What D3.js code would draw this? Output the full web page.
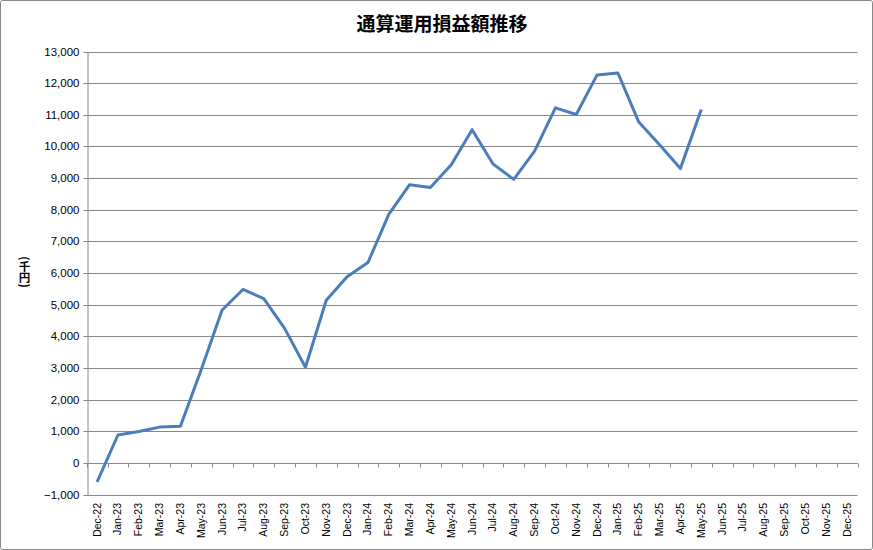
<!DOCTYPE html>
<html><head><meta charset="utf-8">
<script src="https://cdn.jsdelivr.net/npm/d3@7"></script>
<style>body{margin:0;background:#fff}svg{display:block}</style>
</head><body>
<script>
const months = ["Dec-22","Jan-23","Feb-23","Mar-23","Apr-23","May-23","Jun-23","Jul-23","Aug-23","Sep-23","Oct-23","Nov-23","Dec-23","Jan-24","Feb-24","Mar-24","Apr-24","May-24","Jun-24","Jul-24","Aug-24","Sep-24","Oct-24","Nov-24","Dec-24","Jan-25","Feb-25","Mar-25","Apr-25","May-25","Jun-25","Jul-25","Aug-25","Sep-25","Oct-25","Nov-25","Dec-25"];
const values = [-600,880,990,1130,1160,2950,4830,5480,5190,4250,3020,5140,5880,6330,7850,8790,8700,9420,10530,9450,8960,9850,11220,11010,12260,12320,10770,10050,9300,11170];
const yTicks = [-1000,0,1000,2000,3000,4000,5000,6000,7000,8000,9000,10000,11000,12000,13000];
const title = "通算運用損益額推移";
const yLabel = "(千円)";

const W=873,H=550;
const L=86.7,R=857.5,T=51.5,B=494.5;
const svg=d3.select("body").append("svg").attr("width",W).attr("height",H);
svg.append("rect").attr("x",0.5).attr("y",0.5).attr("width",W-1).attr("height",H-1).attr("fill","#fff").attr("stroke","#888").attr("rx",2);

const x=d3.scaleBand().domain(months).range([L,R]).paddingInner(0).paddingOuter(0);
const y=d3.scaleLinear().domain([-1000,13000]).range([B,T]);
const grey="#868686";
const font="'Liberation Sans', Arial, sans-serif";

// gridlines
svg.append("g").selectAll("line").data(yTicks).join("line")
  .attr("x1",L).attr("x2",R).attr("y1",d=>Math.round(y(d))+0.5).attr("y2",d=>Math.round(y(d))+0.5)
  .attr("stroke",grey).attr("stroke-width",1);

// y axis
const ya=svg.append("g").attr("transform",`translate(${Math.round(L)+0.5},0)`)
  .call(d3.axisLeft(y).tickValues(yTicks).tickSize(4).tickSizeOuter(0).tickPadding(4).tickFormat(d3.format(",")));
ya.select(".domain").attr("stroke",grey);
ya.selectAll(".tick line").attr("stroke",grey);
ya.selectAll(".tick").attr("transform",d=>`translate(0,${Math.round(y(d))+0.5})`);
ya.selectAll("text").attr("font-family",font).attr("font-size","11.5px").attr("fill","#000");

// x axis at zero with ticks between categories
const y0=Math.round(y(0))+0.5;
svg.append("line").attr("x1",L).attr("x2",R).attr("y1",y0).attr("y2",y0).attr("stroke",grey);
const bounds=months.map(m=>x(m)).concat([x(months[months.length-1])+x.bandwidth()]);
svg.append("g").selectAll("line").data(bounds).join("line")
  .attr("x1",d=>Math.round(d)+0.5).attr("x2",d=>Math.round(d)+0.5).attr("y1",y0).attr("y2",y0+4).attr("stroke",grey);

// x labels at bottom
svg.append("g").selectAll("text").data(months).join("text")
  .attr("transform",d=>`translate(${x(d)+x.bandwidth()/2+3.5},503) rotate(-90)`)
  .attr("text-anchor","end").attr("font-family",font).attr("font-size","10.5px").attr("fill","#000").text(d=>d);

// line
const line=d3.line().x((d,i)=>x(months[i])+x.bandwidth()/2).y(d=>y(d));
svg.append("path").datum(values).attr("d",line).attr("fill","none").attr("stroke","#4a7ebb").attr("stroke-width",3).attr("stroke-linejoin","round");

// title
svg.append("text").attr("x",442).attr("y",31).attr("text-anchor","middle")
  .attr("font-family","'Noto Sans CJK JP', sans-serif").attr("font-size","19px").attr("font-weight","bold").text(title);

// y label: vertical writing, CJK upright, brackets rotated
svg.append("text").attr("x",24.5).attr("y",272).attr("text-anchor","middle")
  .attr("writing-mode","tb")
  .style("writing-mode","vertical-rl").style("text-orientation","mixed")
  .attr("font-family","'Noto Sans CJK JP', sans-serif").attr("font-size","11.5px").attr("font-weight","bold").attr("fill","#000")
  .text(yLabel);
</script>
</body></html>
